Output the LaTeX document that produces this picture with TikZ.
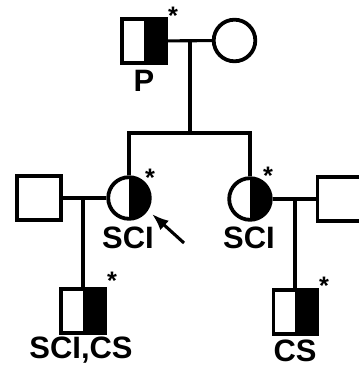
\documentclass[tikz,border=0pt]{standalone}
\usepackage{fontspec}
\setmainfont{Liberation Sans}
\usetikzlibrary{arrows.meta}
\tikzset{
  person/.style={draw, line width=2.7pt, inner sep=0pt, fill=white},
  male/.style={person, rectangle, minimum size=1.08cm},
  female/.style={person, circle, minimum size=1.04cm},
  carrier/.style={path picture={\fill[black] (path picture bounding box.north) rectangle (path picture bounding box.south east);}},
  lbl/.style={font=\fontsize{22}{22}\selectfont\bfseries, inner sep=0pt, anchor=base},
  ast/.style={font=\fontsize{18}{18}\selectfont\bfseries, inner sep=0pt, anchor=north},
  link/.style={line width=2.2pt},
  pointer/.style={line width=2.2pt, -{Latex[length=12pt,width=9pt]}},
}
\begin{document}
\begin{tikzpicture}
[x=0.025cm, y=-0.025cm]
\useasboundingbox (0,0) rectangle (358,372);
%________________________________________________%
\node[male, carrier] (father) at (144,41) {};
\node[female] (mother) at (234.5,40.5) {};
\coordinate (pm) at (190,40.5);
\coordinate (sib) at (190,133);
\draw[link] (father) -- (mother);
\draw[link] (pm) -- (sib);
\node[lbl] (labP) at (144,92) {P};
\node[ast] (astP) at (173,7) {*};
%________________________________________________%
\node[female, carrier] (proband) at (129,198) {};
\node[female, carrier] (sister) at (250,199) {};
\draw[link] (proband.north) |- (sib) -| (sister.north);
\node[lbl] (labPro) at (128,248) {SCI};
\node[lbl] (labSis) at (249,248) {SCI};
\node[ast] (astPro) at (150,169) {*};
\node[ast] (astSis) at (268,167) {*};
\coordinate (arrtail) at (184,243);
\coordinate (arrtip) at (152,214);
\draw[pointer] (arrtail) -- (arrtip);
%________________________________________________%
\node[male] (husA) at (39,198) {};
\node[male, carrier] (sonA) at (83,311) {};
\draw[link] (husA) -- (proband);
\draw[link] (sonA.north) -- (sonA.north |- husA.east);
\node[lbl] (labSonA) at (81,358) {SCI,CS};
\node[ast] (astSonA) at (112,272) {*};
%________________________________________________%
\node[male] (husB) at (339,199) {};
\node[male, carrier] (sonB) at (295,312) {};
\draw[link] (sister) -- (husB);
\draw[link] (sonB.north) -- (sonB.north |- husB.west);
\node[lbl] (labSonB) at (295,361) {CS};
\node[ast] (astSonB) at (324,277) {*};
%________________________________________________%
\end{tikzpicture}
\end{document}
